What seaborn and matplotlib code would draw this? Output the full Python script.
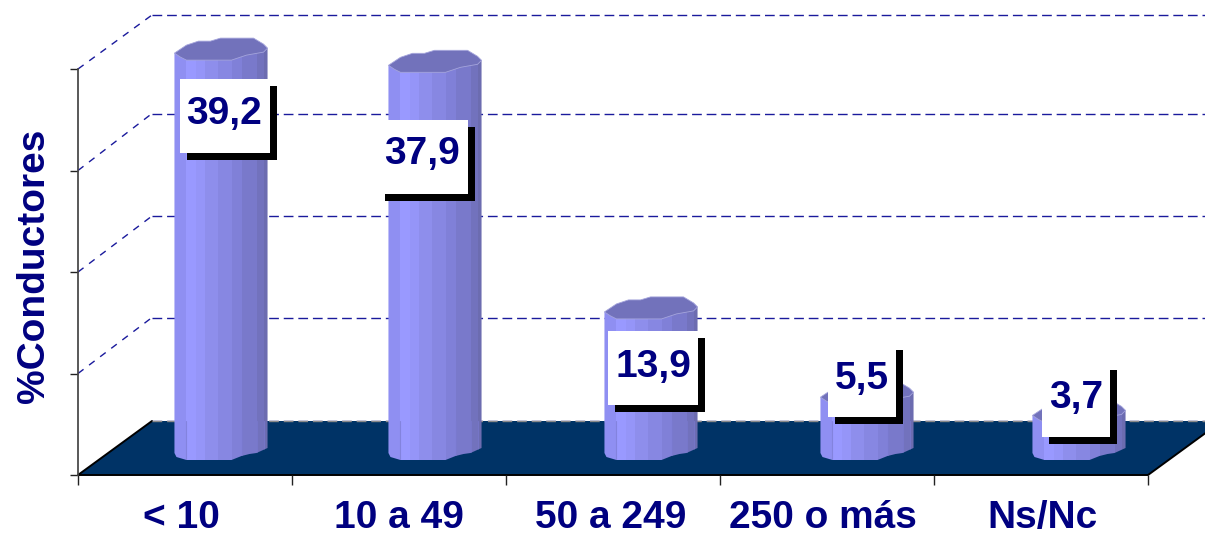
import matplotlib
matplotlib.use("Agg")
import matplotlib.pyplot as plt
from matplotlib.patches import Polygon, Rectangle
import seaborn as sns

categories = ["< 10", "10 a 49", "50 a 249", "250 o más", "Ns/Nc"]
values = [39.2, 37.9, 13.9, 5.5, 3.7]
y_ticks = [0, 10, 20, 30, 40]

W, H = 1205, 534
NAVY = "#000080"
# plot box in pixels, and how far the floor goes back
LEFT, RIGHT, BASE, TOP = 78, 1148, 475, 69
DX, DY = 74, 54
BAR_DX, BAR_DY = 36, 15

# small pixel corrections seen in the reference
grid_nudge = [0, -2, -2, -3, 0]
bar_nudge = [0, 0, 2, 4, 2]
bar_top_nudge = [-2, -3, 0, 0, 0]
label_nudge = [-4, 0, -2, -4, 2]

# left, top, width, text x, text y of each white label box
label_boxes = [(180, 79, 90, 224, 113.5), (378, 120, 90, 422, 154.5), (608, 331, 90, 653, 367),
               (828, 343, 68, 862, 379), (1042, 363, 68, 1076, 398)]
BOX_H = 74
SHADOW = 7

facet_edges = [0, 12, 22, 31, 44, 57, 67, 82, 89, 93]
facet_colors = ["#8f8ff2", "#9999ff", "#9595f8", "#8e8eec", "#8787e2", "#8080d8", "#7979cb", "#7272bd", "#6c6cb0"]
seam_edges = [12, 67, 82, 89]

# outline of a bar relative to its left edge and top/bottom front lines
bottom_shape = [(0, -7), (2, -3), (12, 0), (57, 0), (67, -4), (75, -6), (82, -7), (93, -12)]
cap_shape = [(0, -7), (12, -15), (24, -19), (36, -19), (46, -22), (79, -22), (89, -16), (93, -12),
             (89, -8), (72, -5), (57, 0), (12, 0), (6, -3)]


def add_axes(fig, x0, x1, y_bottom, y_top, zorder):
    ax = fig.add_axes([x0 / W, 1 - y_bottom / H, (x1 - x0) / W, (y_bottom - y_top) / H], zorder=zorder)
    ax.patch.set_visible(False)
    return ax


def pixel_axes(fig, zorder):
    ax = add_axes(fig, 0, W, H, 0, zorder)
    ax.set_xlim(0, W)
    ax.set_ylim(H, 0)
    ax.axis("off")
    return ax


sns.set_theme(style="white")
plt.rcParams["font.family"] = ["Liberation Sans", "DejaVu Sans"]
plt.rcParams["font.weight"] = "bold"

fig = plt.figure(figsize=(W / 100, H / 100), dpi=100, facecolor="white")

# walls and floor
wall = pixel_axes(fig, 1)
scale = (BASE - TOP) / (y_ticks[-1] - y_ticks[0])
for t, nudge in zip(y_ticks, grid_nudge):
    y = BASE - t * scale
    back_y = y - DY + nudge
    if t > 0:
        wall.plot([LEFT, LEFT + DX], [y, back_y], color="#1a1a9c", lw=1, dashes=(5, 5))
    wall.plot([LEFT + DX, W], [back_y, back_y], color="#1a1a9c", lw=1, dashes=(7, 3.5))
wall.add_patch(Polygon([(LEFT, BASE), (RIGHT, BASE), (RIGHT + DX, BASE - DY), (LEFT + DX, BASE - DY)],
                       closed=True, facecolor="#003366", edgecolor="none", zorder=3))
wall.plot([LEFT + DX, LEFT, RIGHT, RIGHT + DX], [BASE - DY, BASE, BASE, BASE - DY], color="black", lw=1.4, zorder=4)
wall.plot([LEFT + DX, W], [BASE - DY, BASE - DY], color="#8a8a8a", lw=1, dashes=(7, 3.5), zorder=4)

# axis with ticks and category labels
front = add_axes(fig, LEFT, RIGHT, BASE, TOP, 2)
front.set_xlim(-0.5, 4.5)
front.set_ylim(y_ticks[0], y_ticks[-1])
front.set_xticks([i - 0.5 for i in range(len(categories) + 1)])
front.set_xticklabels([])
unit = (RIGHT - LEFT) / len(categories)
front.set_xticks([i + n / unit for i, n in enumerate(label_nudge)], labels=categories, minor=True)
front.set_yticks(y_ticks)
front.set_yticklabels([])
front.tick_params(axis="x", which="major", direction="out", length=7, width=1, color="#222222", bottom=True)
front.tick_params(axis="x", which="minor", length=0, pad=18, labelsize=28, labelcolor=NAVY, bottom=False)
front.tick_params(axis="y", direction="out", length=6, width=1, color="#222222", left=True)
front.set_ylabel("%Conductores", fontsize=28, fontweight="bold", color=NAVY)
front.yaxis.set_label_coords(-26 / (RIGHT - LEFT), 0.515)
sns.despine(ax=front, top=True, right=True)
front.spines["left"].set_color("#444444")
front.spines["bottom"].set_visible(False)

# bars come from seaborn, in an axes shifted onto the floor
bars_ax = add_axes(fig, LEFT + BAR_DX, RIGHT + BAR_DX, BASE - BAR_DY, TOP - BAR_DY, 3)
sns.barplot(x=categories, y=values, color="#8f8ff2", width=0.435, saturation=1, ax=bars_ax)
bars_ax.set_xlim(-0.5, 4.5)
bars_ax.set_ylim(y_ticks[0], y_ticks[-1])
bars_ax.axis("off")

top = pixel_axes(fig, 4)
for patch, nudge, top_nudge in zip(bars_ax.patches, bar_nudge, bar_top_nudge):
    (x0, y1), (x1, y0) = bars_ax.transData.transform([(patch.get_x(), patch.get_height()), (patch.get_x() + patch.get_width(), 0)])
    x0, x1 = x0 + nudge, x1 + nudge
    y0, y1 = H - y0, H - y1 + top_nudge
    width = x1 - x0
    k = width / 93
    shape = [(x0 + dx * k, y0 + dy) for dx, dy in bottom_shape] + [(x1, y1 - 12), (x0, y1 - 7)]
    body = Polygon(shape, closed=True, facecolor="none", edgecolor="none", zorder=2)
    top.add_patch(body)
    patch.set_visible(False)
    for a, b, c in zip(facet_edges[:-1], facet_edges[1:], facet_colors):
        r = Rectangle((x0 + a * k, y1 - 30), (b - a) * k + 0.5, y0 - y1 + 31, facecolor=c, edgecolor="none", zorder=2)
        top.add_patch(r)
        r.set_clip_path(body)
    # facet seams show up on the part of the bar in front of the floor
    if y1 < BASE - DY:
        for a in seam_edges:
            seam = top.plot([x0 + a * k] * 2, [BASE - DY, y0], color="#7a7ad0", lw=0.8, alpha=0.7, zorder=2)[0]
            seam.set_clip_path(body)
    top.add_patch(Polygon([(x0 + dx * k, y1 + dy) for dx, dy in cap_shape], closed=True, facecolor="#7272bb",
                          edgecolor="#a5a5dc", lw=0.6, zorder=3))

# value labels with their black shadow
for value, (bx, by, bw, tx, ty) in zip(values, label_boxes):
    top.add_patch(Rectangle((bx + SHADOW, by + SHADOW), bw, BOX_H, facecolor="black", edgecolor="none", zorder=5))
    top.add_patch(Rectangle((bx, by), bw, BOX_H, facecolor="white", edgecolor="none", zorder=6))
    top.text(tx, ty, f"{value:.1f}".replace(".", ","), fontsize=28, fontweight="bold", color=NAVY,
             ha="center", va="center", zorder=7)

fig.savefig("out.png", dpi=100)
